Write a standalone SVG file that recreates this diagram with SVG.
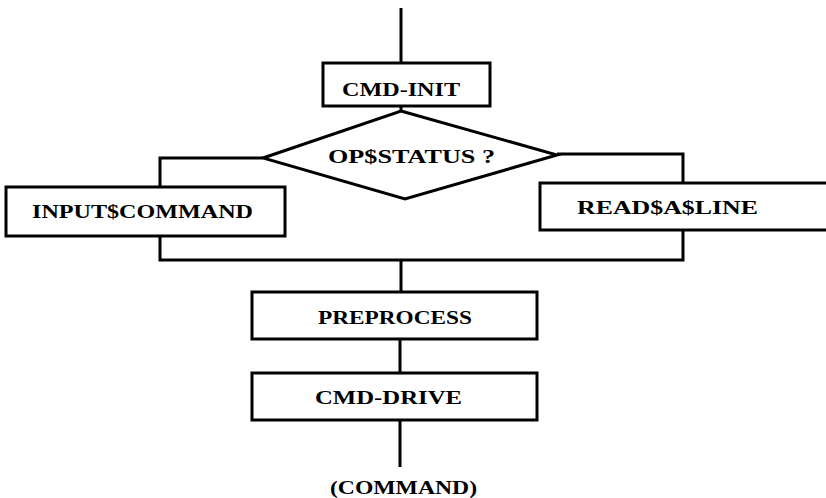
<svg xmlns="http://www.w3.org/2000/svg" width="826" height="498" viewBox="0 0 826 498">
<style>
.box{fill:#fff;stroke:#000;stroke-width:3}
.ln{fill:none;stroke:#000;stroke-width:3;stroke-linejoin:miter}
.t{font-family:"Liberation Serif","Times New Roman",serif;font-weight:bold;font-size:19px;fill:#000}
</style>
<rect width="826" height="498" fill="#fff"/>
<g id="connectors">
<path class="ln" d="M401 8 V63"/>
<path class="ln" d="M401 106 V111"/>
<path class="ln" d="M263 158 H160 V187"/>
<path class="ln" d="M160 236 V260 H683 V230"/>
<path class="ln" d="M557 154 H683 V183"/>
<path class="ln" d="M401 260 V292"/>
<path class="ln" d="M400 339 V373"/>
<path class="ln" d="M400 420 V467"/>
</g>
<g id="cmd-init">
<rect class="box" x="323" y="63" width="167" height="43"/>
<text class="t" x="342" y="96" textLength="118" lengthAdjust="spacingAndGlyphs">CMD-INIT</text>
</g>
<g id="op-status">
<polygon class="box" points="401,111 557,155 405,199 263,158"/>
<text class="t" x="328" y="163" textLength="167" lengthAdjust="spacingAndGlyphs">OP$STATUS ?</text>
</g>
<g id="input-command">
<rect class="box" x="6" y="187" width="279" height="49"/>
<text class="t" x="32" y="218" textLength="221" lengthAdjust="spacingAndGlyphs">INPUT$COMMAND</text>
</g>
<g id="read-a-line">
<rect class="box" x="540" y="183" width="300" height="47"/>
<text class="t" x="577" y="214" textLength="181" lengthAdjust="spacingAndGlyphs">READ$A$LINE</text>
</g>
<g id="preprocess">
<rect class="box" x="252" y="292" width="285" height="47"/>
<text class="t" x="318" y="324" textLength="154" lengthAdjust="spacingAndGlyphs">PREPROCESS</text>
</g>
<g id="cmd-drive">
<rect class="box" x="252" y="373" width="285" height="47"/>
<text class="t" x="315" y="404" textLength="147" lengthAdjust="spacingAndGlyphs">CMD-DRIVE</text>
</g>
<g id="command-out">
<text class="t" x="330" y="494" textLength="147" lengthAdjust="spacingAndGlyphs">(COMMAND)</text>
</g>
</svg>
